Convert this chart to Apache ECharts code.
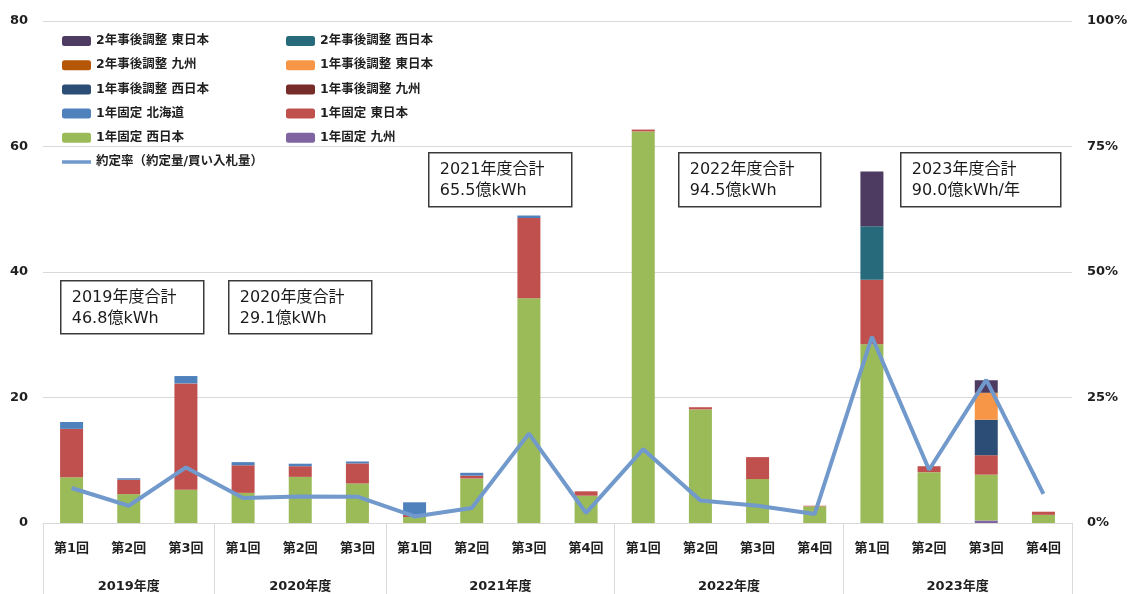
<!DOCTYPE html>
<html>
<head>
<meta charset="utf-8">
<script src="https://cdn.jsdelivr.net/npm/echarts@6/dist/echarts.min.js"></script>
<style>
  html, body { margin: 0; padding: 0; background: #fff; }
  #chart { width: 1132px; height: 594px; }
</style>
</head>
<body>
<div id="chart"></div>
<script>
// Rounds of each fiscal year
const years = ['2019年度', '2020年度', '2021年度', '2022年度', '2023年度'];
const roundsPerYear = [3, 3, 4, 4, 4];
const categories = [
  '第1回', '第2回', '第3回',
  '第1回', '第2回', '第3回',
  '第1回', '第2回', '第3回', '第4回',
  '第1回', '第2回', '第3回', '第4回',
  '第1回', '第2回', '第3回', '第4回'
];

// Contracted volume per product (億kWh), one value per round
const fixedKyushu   = [0, 0, 0, 0, 0, 0, 0, 0, 0, 0, 0, 0, 0, 0, 0, 0, 0.4, 0];
const fixedWest     = [7.3, 4.6, 5.3, 4.8, 7.35, 6.3, 0.95, 7.1, 35.8, 4.35, 62.4, 18.1, 7.0, 2.65, 28.5, 8.1, 7.3, 1.3];
const fixedEast     = [7.7, 2.3, 16.95, 4.4, 1.7, 3.2, 0.35, 0.45, 12.8, 0.7, 0.3, 0.35, 3.5, 0.1, 10.25, 0.95, 3.1, 0.5];
const fixedHokkaido = [1.1, 0.23, 1.17, 0.5, 0.4, 0.3, 2.0, 0.45, 0.4, 0, 0, 0, 0, 0, 0, 0, 0, 0];
const adj1Kyushu    = [0, 0, 0, 0, 0, 0, 0, 0, 0, 0, 0, 0, 0, 0, 0, 0, 0, 0];
const adj1West      = [0, 0, 0, 0, 0, 0, 0, 0, 0, 0, 0, 0, 0, 0, 0, 0, 5.65, 0];
const adj1East      = [0, 0, 0, 0, 0, 0, 0, 0, 0, 0, 0, 0, 0, 0, 0, 0, 4.3, 0];
const adj2Kyushu    = [0, 0, 0, 0, 0, 0, 0, 0, 0, 0, 0, 0, 0, 0, 0, 0, 0, 0];
const adj2West      = [0, 0, 0, 0, 0, 0, 0, 0, 0, 0, 0, 0, 0, 0, 8.55, 0, 0, 0];
const adj2East      = [0, 0, 0, 0, 0, 0, 0, 0, 0, 0, 0, 0, 0, 0, 8.7, 0, 2.0, 0];

// Contract rate (contracted / bid volume), %
const contractRate = [6.97, 3.44, 11.07, 4.98, 5.3, 5.25, 1.3, 3.0, 17.8, 2.0, 14.7, 4.5, 3.45, 1.8, 37.1, 10.6, 28.5, 5.8];

// Yearly totals shown in the callout boxes
const yearTotals = ['46.8億kWh', '29.1億kWh', '65.5億kWh', '94.5億kWh', '90.0億kWh/年'];

const leftTicks = [0, 20, 40, 60, 80];
const rightTicks = [0, 25, 50, 75, 100];

const FONT = "'DejaVu Sans', 'Noto Sans CJK JP', sans-serif";
const GRID = '#D9D9D9';
const TEXT = '#1f1f1f';
const RATE_COLOR = '#7199CB';

// Stack from bottom to top
const barDefs = [
  { name: '1年固定 九州',        data: fixedKyushu,   color: '#8064A2' },
  { name: '1年固定 西日本',      data: fixedWest,     color: '#9BBB59' },
  { name: '1年固定 東日本',      data: fixedEast,     color: '#C0504D' },
  { name: '1年固定 北海道',      data: fixedHokkaido, color: '#4F81BD' },
  { name: '1年事後調整 九州',    data: adj1Kyushu,    color: '#772C2A' },
  { name: '1年事後調整 西日本',  data: adj1West,      color: '#2C4D75' },
  { name: '1年事後調整 東日本',  data: adj1East,      color: '#F79646' },
  { name: '2年事後調整 九州',    data: adj2Kyushu,    color: '#B65708' },
  { name: '2年事後調整 西日本',  data: adj2West,      color: '#276A7C' },
  { name: '2年事後調整 東日本',  data: adj2East,      color: '#4D3B62' }
];
const rateName = '約定率（約定量/買い入札量）';

const legendLeft = [
  '2年事後調整 東日本', '2年事後調整 九州', '1年事後調整 西日本', '1年固定 北海道', '1年固定 西日本',
  { name: rateName, icon: 'path://M0,0H29V3.5H0Z' }
];
const legendRight = ['2年事後調整 西日本', '1年事後調整 東日本', '1年事後調整 九州', '1年固定 東日本', '1年固定 九州'];

// Group boundaries and centres on the year axis
const bounds = [0];
roundsPerYear.forEach(n => bounds.push(bounds[bounds.length - 1] + n));
const centers = roundsPerYear.map((n, i) => bounds[i] + n / 2);

const legendBase = {
  orient: 'vertical',
  top: 29,
  itemWidth: 29,
  itemHeight: 10,
  itemGap: 10.2,
  selectedMode: false,
  textStyle: { fontFamily: FONT, fontSize: 12.5, fontWeight: 'bold', color: TEXT, lineHeight: 14 }
};

const boxes = [
  { left: 60,  top: 280, width: 143, height: 53 },
  { left: 228, top: 280, width: 143, height: 53 },
  { left: 428, top: 152, width: 143, height: 54 },
  { left: 678, top: 152, width: 142, height: 54 },
  { left: 900, top: 152, width: 160, height: 54 }
];

const chart = echarts.init(document.getElementById('chart'));
chart.setOption({
  animation: false,
  backgroundColor: '#fff',
  textStyle: { fontFamily: FONT },
  grid: { left: 43, right: 60, top: 21, bottom: 71 },
  legend: [
    Object.assign({}, legendBase, { left: 57, data: legendLeft }),
    Object.assign({}, legendBase, { left: 281, data: legendRight })
  ],
  xAxis: [
    {
      type: 'category',
      data: categories,
      position: 'bottom',
      axisLine: { lineStyle: { color: GRID, width: 1 } },
      axisTick: { show: false },
      axisLabel: { margin: 19, fontSize: 13, fontWeight: 'bold', color: TEXT, fontFamily: FONT, interval: 0 },
      splitLine: { show: false }
    },
    {
      type: 'value',
      min: 0,
      max: bounds[bounds.length - 1],
      position: 'bottom',
      axisLine: { show: false },
      axisTick: { show: true, inside: false, length: 72, customValues: bounds, lineStyle: { color: GRID, width: 1 } },
      axisLabel: {
        show: true,
        customValues: centers,
        margin: 57,
        fontSize: 13, fontWeight: 'bold', color: TEXT, fontFamily: FONT,
        formatter: v => {
          const i = centers.findIndex(c => Math.abs(c - v) < 1e-6);
          return i >= 0 ? years[i] : '';
        }
      },
      splitLine: { show: false }
    }
  ],
  yAxis: [
    {
      type: 'value', min: 0, max: 80, interval: 20,
      axisLine: { show: false }, axisTick: { show: false },
      axisLabel: { margin: 15, fontSize: 13, fontWeight: 'bold', color: TEXT, fontFamily: FONT, customValues: leftTicks },
      splitLine: { lineStyle: { color: GRID, width: 1 } }
    },
    {
      type: 'value', min: 0, max: 100, interval: 25,
      axisLine: { show: false }, axisTick: { show: false },
      axisLabel: { margin: 15, fontSize: 13, fontWeight: 'bold', color: TEXT, fontFamily: FONT, formatter: '{value}%', customValues: rightTicks },
      splitLine: { show: false }
    }
  ],
  series: barDefs.map(d => ({
    name: d.name,
    type: 'bar',
    stack: 'total',
    barWidth: 23,
    xAxisIndex: 0,
    yAxisIndex: 0,
    data: d.data,
    itemStyle: { color: d.color }
  })).concat([{
    name: rateName,
    type: 'line',
    xAxisIndex: 0,
    yAxisIndex: 1,
    data: contractRate,
    symbol: 'none',
    lineStyle: { color: RATE_COLOR, width: 4 },
    itemStyle: { color: RATE_COLOR },
    z: 5
  }]),
  graphic: boxes.map((b, i) => ({
    type: 'group',
    left: b.left,
    top: b.top,
    z: 10,
    children: [
      { type: 'rect', shape: { x: 0, y: 0, width: b.width, height: b.height },
        style: { fill: '#fff', stroke: '#3a3a3a', lineWidth: 1.5 } },
      { type: 'text', x: 11, y: 7,
        style: { text: years[i] + '合計\n' + yearTotals[i], font: "16px 'DejaVu Sans', 'Noto Sans CJK JP', sans-serif",
                 lineHeight: 20.4, fill: '#1a1a1a' } }
    ]
  }))
});
</script>
</body>
</html>
